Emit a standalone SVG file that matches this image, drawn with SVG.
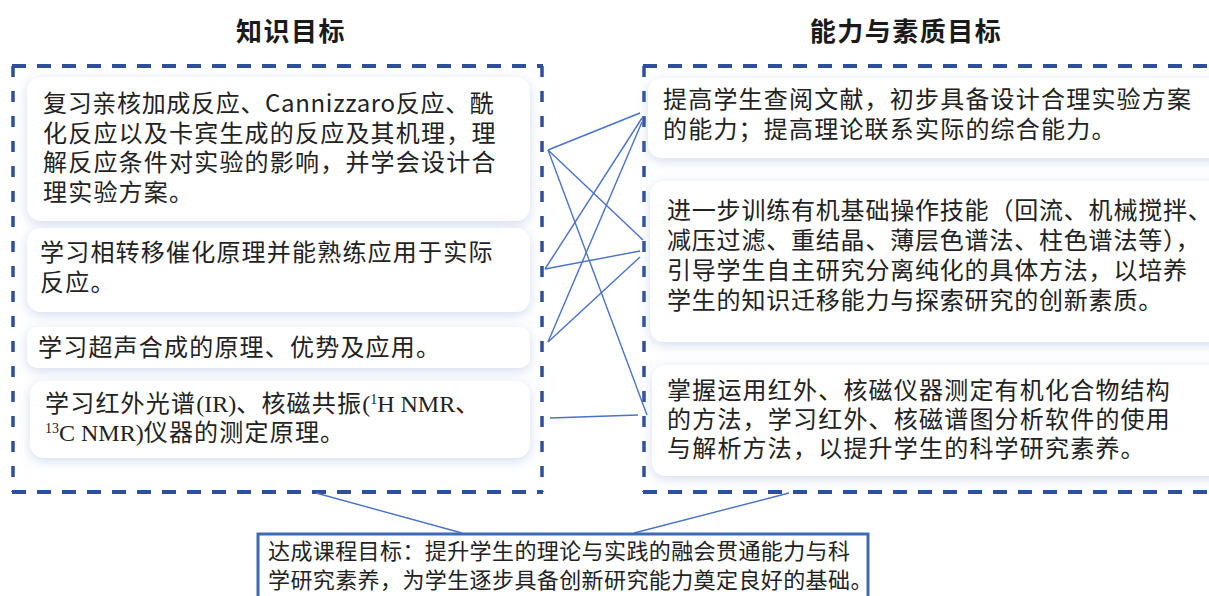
<svg xmlns="http://www.w3.org/2000/svg" width="1209" height="596" viewBox="0 0 1209 596">
<defs>
<style>
.t{font-family:"Noto Sans CJK SC","Noto Sans",sans-serif;font-size:24px;letter-spacing:1.2px;fill:#222;}
.b{font-family:"Noto Sans CJK SC","Noto Sans",sans-serif;font-size:22px;letter-spacing:0.4px;fill:#222;}
.h{font-family:"Noto Sans CJK SC","Noto Sans",sans-serif;font-size:26px;font-weight:bold;letter-spacing:1.5px;fill:#1a1a1a;text-anchor:middle;}
.ser{font-family:"Liberation Serif",serif;letter-spacing:0;}
.card{fill:#ffffff;filter:url(#sh);}
.dh{stroke:#2d4f9e;stroke-width:4;stroke-dasharray:14 11;fill:none;}
.dv{stroke:#2d4f9e;stroke-width:3.5;stroke-dasharray:11 14;fill:none;}
.ln{stroke:#4a72c8;stroke-width:1.4;fill:none;}
</style>
<filter id="sh" x="-10%" y="-30%" width="120%" height="160%">
<feDropShadow dx="0" dy="3" stdDeviation="6" flood-color="#9eb0d8" flood-opacity="0.45"/>
</filter>
</defs>
<rect width="1209" height="596" fill="#ffffff"/>

<g id="titles">
<text class="h" x="291" y="41">知识目标</text>
<text class="h" x="906" y="41">能力与素质目标</text>
</g>

<g id="knowledge-frame">
<line class="dh" x1="12" y1="66" x2="543" y2="66"/>
<line class="dh" x1="12" y1="492" x2="543" y2="492"/>
<line class="dv" x1="13" y1="66" x2="13" y2="492"/>
<line class="dv" x1="542" y1="66" x2="542" y2="492"/>
</g>

<g id="ability-frame">
<line class="dh" x1="643" y1="66" x2="1209" y2="66"/>
<line class="dh" x1="643" y1="492" x2="1209" y2="492"/>
<line class="dv" x1="644" y1="66" x2="644" y2="492"/>
</g>

<g id="k1">
<rect class="card" x="27" y="77" width="503" height="144" rx="14"/>
<text class="t"><tspan x="43" y="112" textLength="452" lengthAdjust="spacing">复习亲核加成反应、Cannizzaro反应、酰</tspan><tspan x="43" y="142">化反应以及卡宾生成的反应及其机理，理</tspan><tspan x="43" y="171">解反应条件对实验的影响，并学会设计合</tspan><tspan x="43" y="201">理实验方案。</tspan></text>
</g>

<g id="k2">
<rect class="card" x="27" y="228" width="503" height="84" rx="14"/>
<text class="t"><tspan x="40" y="261">学习相转移催化原理并能熟练应用于实际</tspan><tspan x="40" y="291">反应。</tspan></text>
</g>

<g id="k3">
<rect class="card" x="27" y="327" width="503" height="41" rx="10"/>
<text class="t" x="38" y="356">学习超声合成的原理、优势及应用。</text>
</g>

<g id="k4">
<rect class="card" x="30" y="381" width="500" height="77" rx="14"/>
<text class="t"><tspan x="45" y="412">学习红外光谱</tspan><tspan class="ser">(IR)</tspan><tspan>、核磁共振</tspan><tspan class="ser">(</tspan><tspan class="ser" font-size="14" dy="-8">1</tspan><tspan class="ser" dy="8">H NMR</tspan><tspan>、</tspan><tspan class="ser" font-size="14" x="45" y="433">13</tspan><tspan class="ser" y="441">C NMR)</tspan><tspan>仪器的测定原理。</tspan></text>
</g>

<g id="a1">
<rect class="card" x="648" y="78" width="580" height="80" rx="14"/>
<text class="t"><tspan x="663" y="108">提高学生查阅文献，初步具备设计合理实验方案</tspan><tspan x="663" y="138">的能力；提高理论联系实际的综合能力。</tspan></text>
</g>

<g id="a2">
<rect class="card" x="650" y="181" width="580" height="161" rx="14"/>
<text class="t" style="letter-spacing:0.8px"><tspan x="667" y="219">进一步训练有机基础操作技能（回流、机械搅拌、</tspan><tspan x="667" y="249">减压过滤、重结晶、薄层色谱法、柱色谱法等），</tspan><tspan x="667" y="279">引导学生自主研究分离纯化的具体方法，以培养</tspan><tspan x="667" y="309">学生的知识迁移能力与探索研究的创新素质。</tspan></text>
</g>

<g id="a3">
<rect class="card" x="652" y="365" width="580" height="111" rx="14"/>
<text class="t"><tspan x="667" y="399">掌握运用红外、核磁仪器测定有机化合物结构</tspan><tspan x="667" y="428">的方法，学习红外、核磁谱图分析软件的使用</tspan><tspan x="667" y="457">与解析方法，以提升学生的科学研究素养。</tspan></text>
</g>

<g id="goal">
<rect x="258" y="534" width="610" height="80" fill="#ffffff" stroke="#3e6bb8" stroke-width="3"/>
<text class="b"><tspan x="268" y="559">达成课程目标：提升学生的理论与实践的融会贯通能力与科</tspan><tspan x="268" y="588">学研究素养，为学生逐步具备创新研究能力奠定良好的基础。</tspan></text>
</g>

<g id="connectors">
<line class="ln" x1="548" y1="150" x2="640" y2="113"/>
<line class="ln" x1="548" y1="150" x2="643" y2="240"/>
<line class="ln" x1="548" y1="150" x2="647" y2="415"/>
<line class="ln" x1="545" y1="269" x2="642" y2="118"/>
<line class="ln" x1="545" y1="269" x2="640" y2="251"/>
<line class="ln" x1="548" y1="342" x2="642" y2="122"/>
<line class="ln" x1="548" y1="342" x2="640" y2="257"/>
<line class="ln" x1="550" y1="418" x2="638" y2="415"/>
<line class="ln" x1="316" y1="493" x2="462" y2="533"/>
<line class="ln" x1="789" y1="493" x2="634" y2="533"/>
</g>
</svg>
